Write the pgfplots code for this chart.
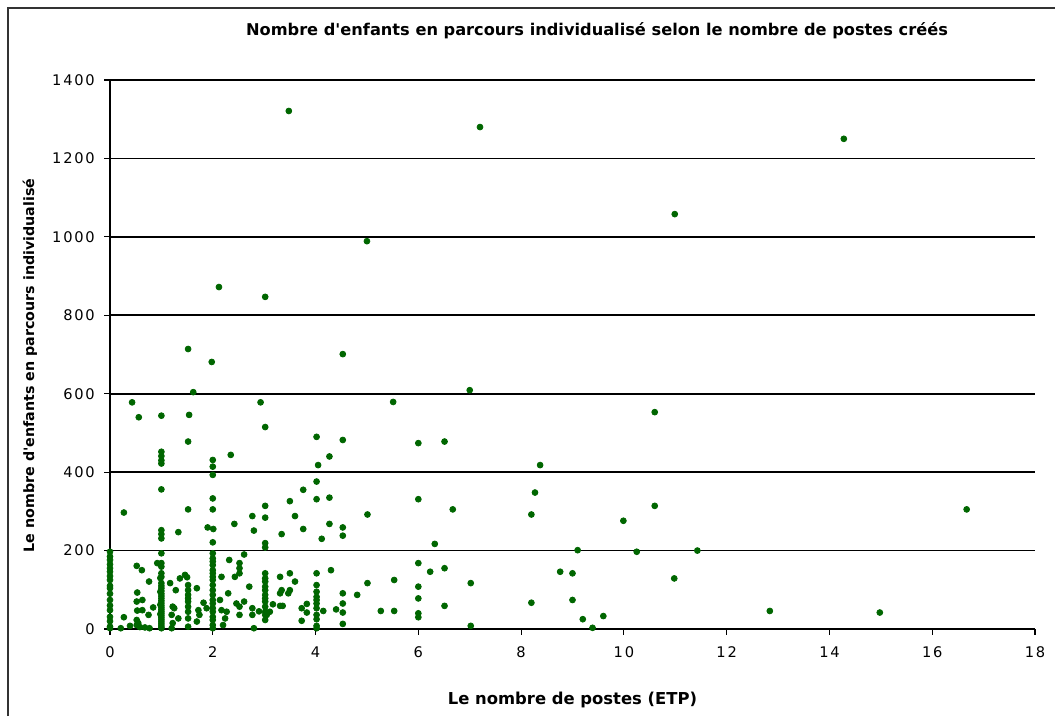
\documentclass[border=0pt]{standalone}
\usepackage{pgfplots}
\pgfplotsset{compat=1.18}
\usepackage{fontspec}
\setmainfont{DejaVu Sans}
\setsansfont{DejaVu Sans}
\definecolor{ptgreen}{RGB}{0,102,0}

% nombre de postes (ETP), nombre d'enfants
\pgfplotstableread{
x y
0 197
0 185
0 176
0 165
0 155
0 146
0 135
0 125
0 110
0 104
0 90
0 74
0 60
0 48
0 31
0 20
0 6
0 2
0.27 297
0.27 30
0.21 2
0.39 8
0.43 578
0.56 540
0.52 161
0.62 150
0.76 121
0.92 168
0.53 93
0.52 70
0.53 47
0.52 23
0.52 10
0.63 74
0.63 48
0.75 36
0.84 55
0.68 4
0.77 2
0.55 15
0.58 5
1 544
1 452
1 441
1 430
1 422
1 356
1 252
1 242
1 231
1 193
1 168
1 159
1 142
1 133
1 117
1 110
1 104
1 97
1 90
1 84
1 78
1 72
1 66
1 60
1 55
1 50
1 45
1 40
1 35
1 30
1 25
1 20
1 15
1 10
1 5
1 2
0.98 130
0.98 95
0.98 62
0.98 38
1.17 117
1.22 57
1.25 53
1.2 36
1.22 15
1.2 2
1.28 99
1.33 27
1.33 247
1.36 129
1.46 138
1.5 132
1.52 714
1.52 478
1.54 546
1.52 305
1.52 112
1.52 99
1.52 87
1.52 78
1.52 70
1.52 57
1.52 44
1.52 27
1.52 6
1.62 604
1.69 104
1.72 48
1.74 36
1.69 19
1.82 67
1.88 53
1.9 259
1.98 681
2.12 872
2 431
2 414
2 393
2 333
2 305
2.01 255
2 221
2 193
2 180
2 172
2 163
2 150
2 142
2 133
2 125
2 112
2 99
2 87
2 74
2 65
2 53
2 44
2 31
2 23
2 10
2 2
2.17 133
2.32 176
2.3 91
2.14 74
2.17 48
2.27 44
2.24 27
2.2 10
2.35 444
2.42 268
2.43 133
2.52 168
2.52 155
2.52 142
2.61 190
2.46 65
2.52 57
2.61 70
2.71 108
2.52 36
2.77 288
2.8 251
2.77 53
2.77 36
2.8 2
2.93 578
3.02 847
3.02 515
3.02 314
3.02 284
3.02 219
3.02 208
3.02 142
3.02 129
3.02 121
3.02 108
3.02 99
3.02 87
3.02 78
3.02 70
3.02 57
3.02 44
3.02 36
3.02 23
2.9 45
3.17 63
3.11 44
3.05 36
3.31 133
3.5 142
3.6 121
3.31 91
3.34 99
3.47 91
3.5 99
3.31 59
3.36 59
3.34 242
3.48 1321
3.5 326
3.6 288
3.76 355
3.76 255
3.73 53
3.83 64
3.83 42
3.73 21
4.02 490
4.05 418
4.02 376
4.02 331
4.02 142
4.02 112
4.02 95
4.02 82
4.02 74
4.02 65
4.02 53
4.02 36
4.02 25
4.02 8
4.02 2
4.12 230
4.27 440
4.27 335
4.27 268
4.3 150
4.15 46
4.4 50
4.53 701
4.53 482
4.53 259
4.53 238
4.53 91
4.53 65
4.53 42
4.53 13
4.81 87
5.0 989
5.01 292
5.01 117
5.27 46
5.51 579
5.53 125
5.53 46
6.0 474
6.0 331
6.0 168
6.0 108
6.0 78
6.0 40
6.0 30
6.23 146
6.32 217
6.51 478
6.51 155
6.51 59
6.67 305
7.0 609
7.02 117
7.02 8
7.2 1280
8.2 292
8.27 348
8.37 418
8.2 67
8.76 146
9.0 142
9.0 74
9.1 201
9.2 25
9.39 3
9.6 33
9.99 276
10.25 197
10.6 553
10.6 314
10.98 129
10.99 1058
11.43 200
12.84 46
14.28 1250
14.98 42
16.67 305
}\postes

\begin{document}
\begin{tikzpicture}
% page = 1055 x 716 px, 1 px = 0.018 cm, origin at the axis' lower left corner
\useasboundingbox (-1.98,-1.566) rectangle (17.01,11.322);
\draw[black!80, line width=0.9pt] (-1.84,-1.566) -- (-1.84,11.18) -- (17.01,11.18);
\begin{axis}[
    at={(0,0)}, anchor=south west,
    scale only axis,
    width=16.65cm, height=9.882cm,
    xmin=0, xmax=18, ymin=0, ymax=1400,
    xtick={0,2,...,18},
    ytick={0,200,...,1400},
    axis x line*=bottom,
    axis y line*=left,
    axis line style={black, line width=0.8pt},
    ymajorgrids,
    grid style={black, line width=0.9pt},
    tick align=outside,
    major tick length=0.1cm,
    tick style={black, line width=0.6pt},
    /pgf/number format/assume math mode=true,
    /pgf/number format/1000 sep={},
    tick label style={font=\fontsize{7.5}{9}\selectfont\addfontfeature{LetterSpace=12}},
    yticklabel style={xshift=-0.05cm},
    xticklabel style={yshift=-0.1cm},
    title={Nombre d\textquotesingle enfants en parcours individualisé selon le nombre de postes créés},
    title style={font=\fontsize{8.3}{10}\selectfont\bfseries,
        at={(axis description cs:0.5265,1)}, yshift=0.684cm, anchor=center},
    xlabel={Le nombre de postes (ETP)},
    xlabel style={font=\fontsize{8.4}{10}\selectfont\bfseries,
        at={(axis description cs:0.5,0)}, yshift=-1.278cm, anchor=center},
    ylabel={Le nombre d\textquotesingle enfants en parcours individualisé},
    ylabel style={font=\fontsize{7.3}{9}\selectfont\bfseries,
        at={(axis description cs:-0.0865,0.48)}, anchor=center},
    clip=false,
]
\addplot[only marks, mark=*, mark size=1.5pt,
    mark options={fill=ptgreen, draw=ptgreen}] table {\postes};
\end{axis}
\end{tikzpicture}
\end{document}
